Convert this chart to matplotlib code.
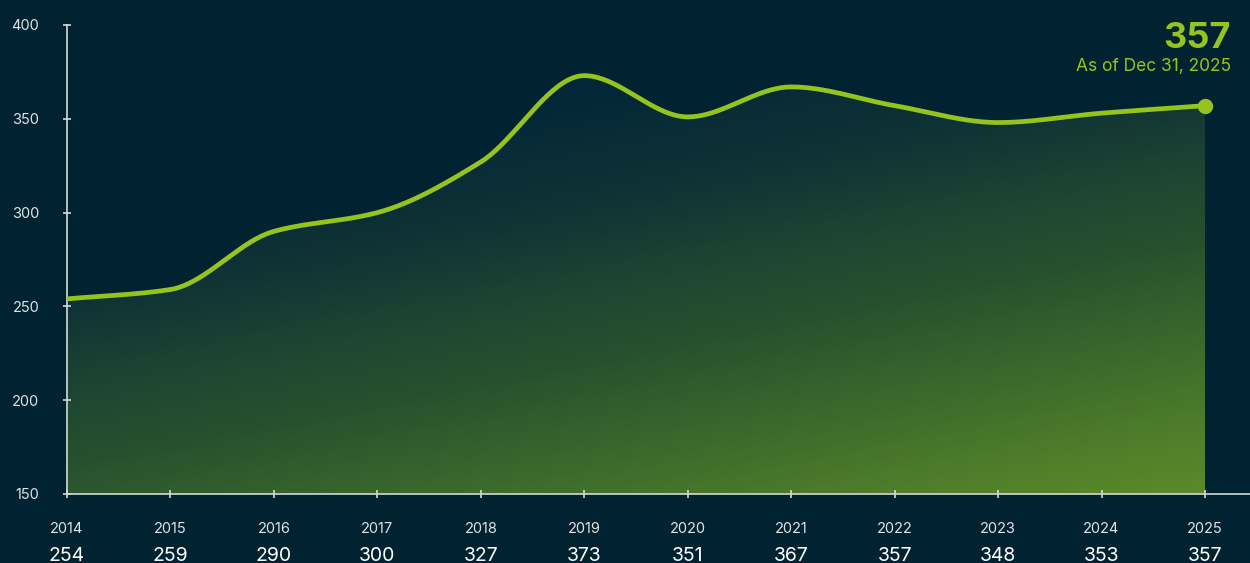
import numpy as np
import matplotlib.pyplot as plt
from matplotlib.colors import LinearSegmentedColormap
from matplotlib.patches import Polygon
import matplotlib.transforms as mtransforms

years = [2014, 2015, 2016, 2017, 2018, 2019, 2020, 2021, 2022, 2023, 2024, 2025]
values = [254, 259, 290, 300, 327, 373, 351, 367, 357, 348, 353, 357]
y_ticks = [150, 200, 250, 300, 350, 400]
latest_label = "357"
latest_note = "As of Dec 31, 2025"

bg = '#012331'
line_col = '#96c41f'
axis_col = '#d6d9d6'
plt.rcParams['font.family'] = ['Inter', 'DejaVu Sans']


def monotone_curve(x, y, n=40):
    # Fritsch-Carlson monotone cubic, like d3 curveMonotoneX
    x = np.asarray(x, float)
    y = np.asarray(y, float)
    h = np.diff(x)
    d = np.diff(y) / h
    m = np.zeros_like(y)
    m[0], m[-1] = d[0], d[-1]
    for i in range(1, len(y) - 1):
        if d[i - 1] * d[i] <= 0:
            m[i] = 0
        else:
            m[i] = 3 * (h[i - 1] + h[i]) / ((2 * h[i] + h[i - 1]) / d[i - 1] + (h[i] + 2 * h[i - 1]) / d[i])
    xs, ys = [], []
    for i in range(len(h)):
        t = np.linspace(0, 1, n, endpoint=False)
        h00 = 2 * t**3 - 3 * t**2 + 1
        h10 = t**3 - 2 * t**2 + t
        h01 = -2 * t**3 + 3 * t**2
        h11 = t**3 - t**2
        xs.append(x[i] + t * h[i])
        ys.append(h00 * y[i] + h10 * h[i] * m[i] + h01 * y[i + 1] + h11 * h[i] * m[i + 1])
    xs.append([x[-1]])
    ys.append([y[-1]])
    return np.concatenate(xs), np.concatenate(ys)


fig = plt.figure(figsize=(12.5, 5.63), dpi=100)
fig.patch.set_facecolor(bg)
ax = fig.add_axes([0.0536, 0.1226, 0.9464, 0.833])
ax.set_facecolor(bg)

xs, ys = monotone_curve(years, values)
ax.set_xlim(2014, 2025.435)
ax.set_ylim(150, 400)

# diagonal gradient fill under the curve: dark at the top, olive at the bottom right
cmap = LinearSegmentedColormap.from_list('g', [
    (0.0, '#012333'), (0.2, '#052838'), (0.35, '#0f3235'), (0.5, '#1e4632'),
    (0.6, '#26502e'), (0.9, '#4e7e2a'), (1.0, '#5a8a28')])
gx, gy = np.meshgrid(np.linspace(0, 1, 300), np.linspace(0, 1, 200))
grad = 0.35 * gx + 0.65 * gy
img = ax.imshow(grad, cmap=cmap, vmin=0, vmax=1, extent=[2014, 2025, 150, 373],
                origin='upper', aspect='auto', zorder=1)
poly = Polygon(np.column_stack([np.r_[xs, 2025, 2014], np.r_[ys, 150, 150]]),
               closed=True, transform=ax.transData, facecolor='none', edgecolor='none')
ax.add_patch(poly)
img.set_clip_path(poly)

ax.plot(xs, ys, color=line_col, lw=3.4, zorder=3, solid_capstyle='round')
ax.plot(years[-1], values[-1], 'o', color=line_col, ms=10, zorder=4)

for s in ['top', 'right']:
    ax.spines[s].set_visible(False)
for s in ['left', 'bottom']:
    ax.spines[s].set_color(axis_col)
    ax.spines[s].set_linewidth(1.2)

ax.set_yticks(y_ticks)
ax.set_yticklabels([str(v) for v in y_ticks])
ax.set_xticks(years)
ax.set_xticklabels([str(y) for y in years])
ax.tick_params(axis='y', direction='inout', length=6, width=1.2, color=axis_col,
               labelcolor='#dfe3e3', labelsize=10.5, pad=17)
ax.tick_params(axis='x', direction='inout', length=6, width=1.2, color=axis_col,
               labelcolor='#dfe3e3', labelsize=10.5, pad=17)

trans = mtransforms.blended_transform_factory(ax.transData, fig.transFigure)
for x, v in zip(years, values):
    ax.text(x, 1 - 556 / 563, str(v), transform=trans, ha='center', va='center',
            color='white', fontsize=14, clip_on=False)

fig.text(1231 / 1250, 1 - 38 / 563, latest_label, ha='right', va='center',
         color=line_col, fontsize=26, fontweight='bold')
fig.text(1231 / 1250, 1 - 66 / 563, latest_note, ha='right', va='center',
         color=line_col, fontsize=12.5)

fig.savefig('out.png', dpi=100, facecolor=bg)
